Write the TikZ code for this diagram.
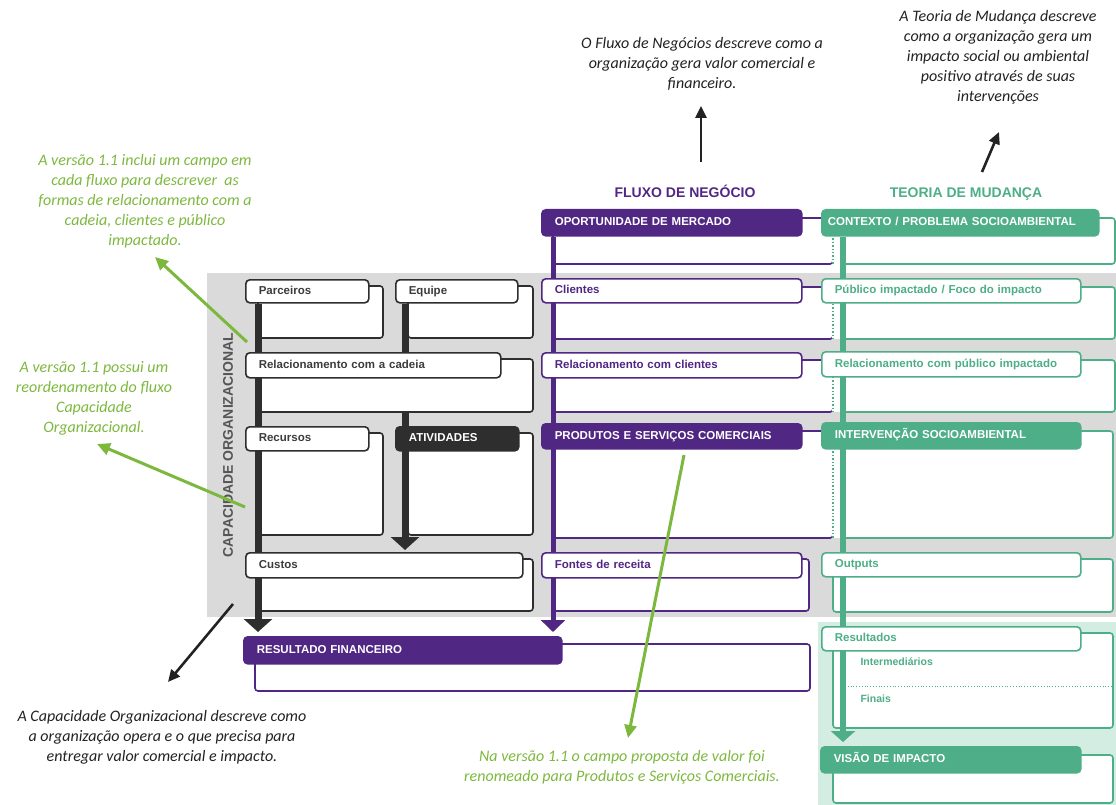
\documentclass[tikz,border=0pt]{standalone}
\usepackage{fontspec}
\setmainfont{Carlito}[ItalicFont={Carlito Italic}]
\newfontfamily\boxfont{Liberation Sans}
\usetikzlibrary{arrows.meta}
\definecolor{capdark}{RGB}{46,46,46}
\definecolor{captext}{RGB}{60,60,60}
\definecolor{fluxo}{RGB}{81,39,132}
\definecolor{teoria}{RGB}{77,174,136}
\definecolor{teorialight}{RGB}{211,237,227}
\definecolor{panelgrey}{RGB}{218,218,218}
\definecolor{notegreen}{RGB}{125,184,62}
\definecolor{notedark}{RGB}{34,34,34}
\definecolor{labelgrey}{RGB}{85,85,85}
\pgfdeclarelayer{back}
\pgfdeclarelayer{under}
\pgfdeclarelayer{bodies}
\pgfdeclarelayer{rails}
\pgfsetlayers{back,under,bodies,rails,main}
\begin{document}
\begin{tikzpicture}[x=1pt,y=-1pt,
  tabbase/.style={anchor=north west, rounded corners=4pt, line width=1.6pt,
    inner xsep=13pt, inner ysep=0pt, align=left, text height=8.5pt, text depth=2.3pt,
    font=\boxfont\bfseries\fontsize{11.5}{13}\selectfont},
  tabx/.style 2 args={tabbase, text width=#1, minimum height=#2},
  captab/.style={draw=capdark, fill=white, text=captext},
  capfill/.style={draw=capdark, fill=capdark, text=white},
  flutab/.style={draw=fluxo, fill=white, text=fluxo},
  flufill/.style={draw=fluxo, fill=fluxo, text=white},
  teotab/.style={draw=teoria, fill=white, text=teoria},
  teofill/.style={draw=teoria, fill=teoria, text=white},
  body/.style={line width=1.6pt, rounded corners=3pt, fill=white},
  subtext/.style={anchor=west, text=teoria, font=\boxfont\bfseries\fontsize{10.5}{12}\selectfont},
  heading/.style={anchor=base, font=\boxfont\bfseries\fontsize{14}{16}\selectfont},
  note/.style={align=center, font=\itshape\fontsize{16}{20}\selectfont},
  darkarrow/.style={draw=notedark, line width=2.6pt, -{Triangle[width=11pt,length=12pt]}},
  greenarrow/.style={draw=notegreen, line width=3pt, -{Triangle[width=12pt,length=13pt]}},
]
\useasboundingbox (0,0) rectangle (1116,805);

% ---------- panels ----------
\begin{pgfonlayer}{back}
  \fill[panelgrey] (207,273) rectangle (1116,617);
  \fill[teorialight] (818,622) rectangle (1116,805);
\end{pgfonlayer}

% ---------- Capacidade Organizacional ----------
\node[tabx={97pt}{23pt},captab]  (parceiros)  at (245,279) {Parceiros};
\node[tabx={96pt}{23pt},captab]  (equipe)     at (395,279) {Equipe};
\node[tabx={229pt}{25pt},captab] (cadeia)     at (245,352) {Relacionamento com a cadeia};
\node[tabx={97pt}{24pt},captab]  (recursos)   at (245,426) {Recursos};
\node[tabx={97pt}{24pt},capfill] (atividades) at (395,426) {ATIVIDADES};
\node[tabx={251pt}{25pt},captab] (custos)     at (245,552) {Custos};

% ---------- Fluxo de Negocio ----------
\node[tabx={234pt}{26pt},flufill] (oport)    at (541,209) {OPORTUNIDADE DE MERCADO};
\node[tabx={234pt}{24pt},flutab]  (clientes) at (541,278) {Clientes};
\node[tabx={234pt}{25pt},flutab]  (relcli)   at (541,352) {Relacionamento com clientes};
\node[tabx={234pt}{25pt},flufill] (produtos) at (541,423) {PRODUTOS E SERVIÇOS COMERCIAIS};
\node[tabx={234pt}{25pt},flutab]  (fontes)   at (541,552) {Fontes de receita};
\node[tabx={292pt}{27pt},flufill] (resfin)   at (243,636) {RESULTADO FINANCEIRO};

% ---------- Teoria de Mudanca ----------
\node[tabx={265pt}{26pt},teofill,inner xsep=6pt] (contexto) at (821,209) {CONTEXTO / PROBLEMA SOCIOAMBIENTAL};
\node[tabx={233pt}{24pt},teotab]  (publico)     at (821,278) {Público impactado / Foco do impacto};
\node[tabx={233pt}{25pt},teotab]  (relpub)      at (821,351) {Relacionamento com público impactado};
\node[tabx={233pt}{26pt},teofill] (intervencao) at (821,422) {INTERVENÇÃO SOCIOAMBIENTAL};
\node[tabx={233pt}{24pt},teotab]  (outputs)     at (821,552) {Outputs};
\node[tabx={233pt}{24pt},teotab]  (resultados)  at (821,626) {Resultados};
\node[tabx={234pt}{26pt},teofill] (visao)       at (820,746) {VISÃO DE IMPACTO};

\node[subtext] (intermed) at (857,662) {Intermediários};
\node[subtext] (finais)   at (857,699) {Finais};

% ---------- field bodies ----------
\begin{pgfonlayer}{bodies}
  \draw[body,draw=capdark] (258,286) rectangle (383,338);
  \draw[body,draw=capdark] (408,286) rectangle (533,338);
  \draw[body,draw=capdark] (258,359) rectangle (533,412);
  \draw[body,draw=capdark] (258,433) rectangle (383,535);
  \draw[body,draw=capdark] (408,433) rectangle (533,535);
  \draw[body,draw=capdark] (258,559) rectangle (533,611);

  \draw[body,draw=fluxo] (553,218) rectangle (833,264);
  \draw[body,draw=fluxo] (553,287) rectangle (833,339);
  \draw[body,draw=fluxo] (553,360) rectangle (833,412);
  \draw[body,draw=fluxo] (553,431) rectangle (833,538);
  \draw[body,draw=fluxo] (553,559) rectangle (809,611);
  \draw[body,draw=fluxo] (255,644) rectangle (810,691);

  \draw[body,draw=teoria] (843,218) rectangle (1115,264);
  \draw[body,draw=teoria] (843,287) rectangle (1115,339);
  \draw[body,draw=teoria] (843,360) rectangle (1115,412);
  \draw[body,draw=teoria] (843,431) rectangle (1113,538);
  \draw[body,draw=teoria] (833,559) rectangle (1113,612);
  \draw[body,draw=teoria] (833,633) rectangle (1113,728);
  \draw[body,draw=teoria] (833,755) rectangle (1113,803);

  % shared edges between the two flows
  \foreach \ya/\yb in {218/264, 287/339, 360/412, 431/538}{
    \fill[white] (832,\ya) rectangle (844,\yb);
    \draw[teoria, line width=1.4pt, dotted] (833,\ya) -- (833,\yb);
  }
  \draw[teoria, line width=0.8pt, dotted] (845,686) -- (1113,686);
\end{pgfonlayer}

% ---------- flow rails ----------
\coordinate (capx) at (258,0);
\coordinate (eqx)  at (405,0);
\coordinate (flux) at (553,0);
\coordinate (teox) at (843,0);
\begin{pgfonlayer}{under}
  \draw[capdark, line width=7pt, shorten >=2pt, -{Triangle[width=28pt,length=13pt]}]
    (equipe.south -| eqx) -- (custos.north -| eqx);
\end{pgfonlayer}
\begin{pgfonlayer}{rails}
  \draw[capdark, line width=7pt, shorten >=4pt, -{Triangle[width=28pt,length=13pt]}]
    (parceiros.south -| capx) -- (resfin.north -| capx);
  \draw[fluxo, line width=5pt, shorten >=4pt, -{Triangle[width=24pt,length=12pt]}]
    (oport.south -| flux) -- (resfin.north -| flux);
  \draw[teoria, line width=6pt, shorten >=4pt, -{Triangle[width=24pt,length=11pt]}]
    (contexto.south -| teox) -- (visao.north -| teox);
\end{pgfonlayer}

% ---------- headings ----------
\node[heading, text=fluxo]  (fluxotitle)  at (685,197) {FLUXO DE NEGÓCIO};
\node[heading, text=teoria] (teoriatitle) at (966,197) {TEORIA DE MUDANÇA};
\node[heading, anchor=center, rotate=90, text=labelgrey] (caplabel) at (228,445) {CAPACIDADE ORGANIZACIONAL};

% ---------- notes ----------
\node[note, text=notedark] (fluxnote) at (702,64)
  {O Fluxo de Negócios descreve como a\\organização gera valor comercial e\\financeiro.};
\node[note, text=notedark] (teonote) at (998,57)
  {A Teoria de Mudança descreve\\como a organização gera um\\impacto social ou ambiental\\positivo através de suas\\intervenções};
\node[note, text=notedark] (capnote) at (162,737)
  {A Capacidade Organizacional descreve como\\a organização opera e o que precisa para\\entregar valor comercial e impacto.};
\node[note, text=notegreen] (relnote) at (145,201)
  {A versão 1.1 inclui um campo em\\cada fluxo para descrever\ \ as\\formas de relacionamento com a\\cadeia, clientes e público\\impactado.};
\node[note, text=notegreen] (ordnote) at (94,398)
  {A versão 1.1 possui um\\reordenamento do fluxo\\Capacidade\\Organizacional.};
\node[note, text=notegreen] (pscnote) at (622,767)
  {Na versão 1.1 o campo proposta de valor foi\\renomeado para Produtos e Serviços Comerciais.};

% ---------- note pointers ----------
\coordinate (fluxfoot) at (701,162);
\coordinate (fluxtip)  at (701,106);
\coordinate (teofoot)  at (982,172);
\coordinate (teotip)   at (999,132);
\coordinate (capfoot)  at (233,604);
\coordinate (captip)   at (168,682);
\coordinate (relfoot)  at (247,342);
\coordinate (reltip)   at (155,257);
\coordinate (ordfoot)  at (245,507);
\coordinate (ordtip)   at (97,444);
\coordinate (pscfoot)  at (684,455);
\coordinate (psctip)   at (628,738);
\draw[darkarrow] (fluxfoot) -- (fluxtip);
\draw[darkarrow] (teofoot) -- (teotip);
\draw[darkarrow] (capfoot) -- (captip);
\draw[greenarrow] (relfoot) -- (reltip);
\draw[greenarrow] (ordfoot) -- (ordtip);
\draw[greenarrow] (pscfoot) -- (psctip);
\end{tikzpicture}
\end{document}
